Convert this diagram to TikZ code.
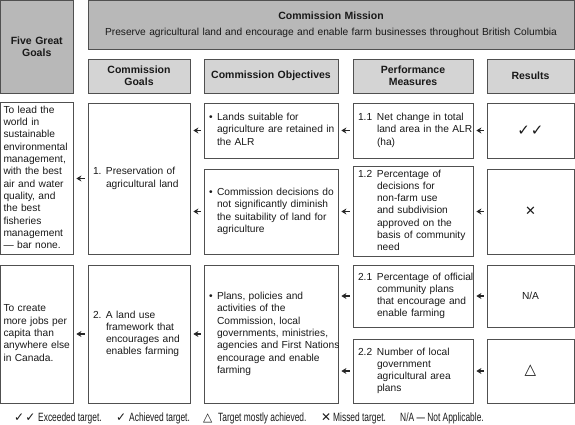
\documentclass[tikz,border=0pt]{standalone}
\usepackage{fontspec}
\setmainfont{Liberation Sans}
\newfontfamily\symfont{DejaVu Sans}
\newfontfamily\narrowfont[FakeStretch=0.70]{Liberation Sans}
\usetikzlibrary{arrows.meta,calc}
\definecolor{bordercol}{RGB}{80,80,80}
\definecolor{darkfill}{RGB}{184,184,184}
\definecolor{lightfill}{RGB}{212,212,212}
\definecolor{txtcol}{RGB}{25,25,25}
\newcommand{\hangtab}[2]{\begin{tabular}{@{}p{#1}@{}l@{}}#2\end{tabular}}
\newcommand{\plaintab}[1]{\begin{tabular}{@{}l@{}}#1\end{tabular}}
\begin{document}
\begin{tikzpicture}[x=1pt,y=-1pt,
  bx/.style={draw=bordercol, line width=0.8pt, inner xsep=5pt, inner ysep=2pt,
     align=left, text=txtcol, font=\fontsize{10.2}{12.3}\selectfont},
  hd/.style={bx, align=center, font=\bfseries\fontsize{10.5}{12}\selectfont},
  colo/.style={text width=124pt},
  colp/.style={text width=110pt},
  colg/.style={text width=92pt},
  colr/.style={text width=77pt, align=center},
  colf/.style={text width=66.5pt, inner xsep=3pt},
  arr/.style={-{Stealth[length=5pt,width=6pt]}, line width=1.2pt, draw=black!85},
  sym/.style={inner sep=0pt, anchor=base west, text=txtcol, font=\symfont\fontsize{12}{13}\selectfont},
  lgd/.style={inner sep=0pt, anchor=base west, text=txtcol, font=\narrowfont\fontsize{12}{13}\selectfont}
]
\useasboundingbox (0,0) rectangle (575,424);

% headers
\node[hd, fill=darkfill, colf, minimum height=92.5pt] (fgh) at (36.75,46.75) {Five Great\\Goals};
\node[bx, fill=darkfill, align=center, text width=476pt, minimum height=48.5pt] (mis) at (331,24.75)
  {{\bfseries\fontsize{10.5}{12}\selectfont Commission Mission}\\[4pt]
   Preserve agricultural land and encourage and enable farm businesses throughout British Columbia};
\node[hd, fill=lightfill, colg, minimum height=34pt] (hg) at (139,76) {Commission\\Goals};
\node[hd, fill=lightfill, colo, minimum height=34pt] (ho) at (271,76) {Commission Objectives};
\node[hd, fill=lightfill, colp, minimum height=34pt] (hp) at (413,76) {Performance\\Measures};
\node[hd, fill=lightfill, colr, minimum height=34pt] (hr) at (530.5,76) {Results};

% row 1
\node[bx, colf, minimum height=151pt] (fg1) at (36.75,178.5)
  {\plaintab{To lead the\\world in\\sustainable\\environmental\\management,\\with the best\\air and water\\quality, and\\the best\\fisheries\\management\\— bar none.}};
\node[bx, colg, minimum height=151pt] (g1) at (139,178.5)
  {\hangtab{13pt}{1. & Preservation of\\ & agricultural land}};
\node[bx, colo, minimum height=55pt] (o1a) at (271,130.5)
  {\hangtab{8pt}{• & Lands suitable for\\ & agriculture are retained in\\ & the ALR}};
\node[bx, colo, minimum height=85pt] (o1b) at (271,211.5)
  {\hangtab{8pt}{• & Commission decisions do\\ & not significantly diminish\\ & the suitability of land for\\ & agriculture}};
\node[bx, colp, minimum height=55pt] (p11) at (413,130.5)
  {\hangtab{19pt}{1.1 & Net change in total\\ & land area in the ALR\\ & (ha)}};
\node[bx, colp, minimum height=85pt] (p12) at (413,211.5)
  {\hangtab{19pt}{1.2 & Percentage of\\ & decisions for\\ & non-farm use\\ & and subdivision\\ & approved on the\\ & basis of community\\ & need}};
\node[bx, colr, minimum height=55pt] (r1) at (530.5,130.5) {{\symfont\fontsize{15}{16}\selectfont ✓\kern1pt✓}};
\node[bx, colr, minimum height=85pt] (r2) at (530.5,211.5) {{\symfont\bfseries\fontsize{13}{14}\selectfont ✕}};

% row 2
\node[bx, colf, minimum height=138pt] (fg2) at (36.75,334)
  {\plaintab{To create\\more jobs per\\capita than\\anywhere else\\in Canada.}};
\node[bx, colg, minimum height=138pt] (g2) at (139,334)
  {\hangtab{13pt}{2. & A land use\\ & framework that\\ & encourages and\\ & enables farming}};
\node[bx, colo, minimum height=138pt] (o2) at (271,334)
  {\hangtab{8pt}{• & Plans, policies and\\ & activities of the\\ & Commission, local\\ & governments, ministries,\\ & agencies and First Nations\\ & encourage and enable\\ & farming}};
\node[bx, colp, minimum height=62pt] (p21) at (413,296)
  {\hangtab{19pt}{2.1 & Percentage of official\\ & community plans\\ & that encourage and\\ & enable farming}};
\node[bx, colp, minimum height=64pt] (p22) at (413,371)
  {\hangtab{19pt}{2.2 & Number of local\\ & government\\ & agricultural area\\ & plans}};
\node[bx, colr, minimum height=62pt] (r3) at (530.5,296) {N/A};
\node[bx, colr, minimum height=64pt] (r4) at (530.5,371) {{\symfont\fontsize{15}{16}\selectfont △}};

% arrows row 1
\draw[arr] ($(g1.west)+(-3,0)$) -- ($(fg1.east |- g1.west)+(3,0)$);
\draw[arr] ($(o1a.west)+(-3,0)$) -- ($(g1.east |- o1a.west)+(3,0)$);
\draw[arr] ($(o1b.west)+(-3,0)$) -- ($(g1.east |- o1b.west)+(3,0)$);
\draw[arr] ($(p11.west)+(-3,0)$) -- ($(o1a.east |- p11.west)+(3,0)$);
\draw[arr] ($(p12.west)+(-3,0)$) -- ($(o1b.east |- p12.west)+(3,0)$);
\draw[arr] ($(r1.west)+(-3,0)$) -- ($(p11.east |- r1.west)+(3,0)$);
\draw[arr] ($(r2.west)+(-3,0)$) -- ($(p12.east |- r2.west)+(3,0)$);
% arrows row 2
\draw[arr] ($(g2.west)+(-3,0)$) -- ($(fg2.east |- g2.west)+(3,0)$);
\draw[arr] ($(o2.west)+(-3,0)$) -- ($(g2.east |- o2.west)+(3,0)$);
\draw[arr] ($(p21.west)+(-3,0)$) -- ($(o2.east |- p21.west)+(3,0)$);
\draw[arr] ($(p22.west)+(-3,0)$) -- ($(o2.east |- p22.west)+(3,0)$);
\draw[arr] ($(r3.west)+(-3,0)$) -- ($(p21.east |- r3.west)+(3,0)$);
\draw[arr] ($(r4.west)+(-3,0)$) -- ($(p22.east |- r4.west)+(3,0)$);

% legend
\node[sym] (ls1) at (14,421) {✓\kern1pt✓};
\node[lgd] (lt1) at (38,421) {Exceeded target.};
\node[sym] (ls2) at (116,421) {✓};
\node[lgd] (lt2) at (129,421) {Achieved target.};
\node[sym] (ls3) at (203,421) {△};
\node[lgd] (lt3) at (218,421) {Target mostly achieved.};
\node[sym] (ls4) at (321,421) {{\bfseries ✕}};
\node[lgd] (lt4) at (333,421) {Missed target.};
\node[lgd] (lt5) at (400,421) {N/A — Not Applicable.};
\end{tikzpicture}
\end{document}
